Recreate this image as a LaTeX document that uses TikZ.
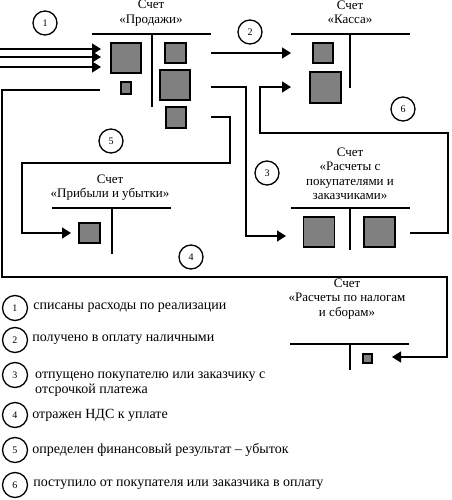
\documentclass[tikz,border=0pt]{standalone}
\usepackage{fontspec}
\setmainfont{Liberation Serif}
\usetikzlibrary{arrows.meta,positioning}

\tikzset{
  tline/.style={line width=1.3pt},
  sq/.style={draw, fill=gray, line width=1.1pt, inner sep=0pt},
  num/.style={draw, circle, line width=1.3pt, minimum size=24pt, inner sep=0pt, font=\fontsize{10}{12}\selectfont},
  conn/.style={line width=1.3pt, -{Triangle[length=9pt,width=11pt]}},
  title/.style={align=center, inner sep=0pt, font=\fontsize{13}{14.5}\selectfont},
  legend/.style={anchor=west, inner sep=0pt, align=left, font=\fontsize{14}{15}\selectfont},
}

\begin{document}
\begin{tikzpicture}[x=1pt,y=-1pt]
\useasboundingbox (0,0) rectangle (451,500);

% Account "Sales"
\node[title] (tSales) at (151,13) {Счет\\«Продажи»};
\draw[tline] (92,34) -- (211,34);
\draw[tline] (152,34) -- (152,107);
\node[sq, minimum width=30pt, minimum height=30pt] (sA) at (126,58) {};
\node[sq, minimum width=10pt, minimum height=12pt] (sB) at (126,88) {};
\node[sq, minimum width=21pt, minimum height=20pt] (sC) at (175.5,53) {};
\node[sq, minimum width=30pt, minimum height=30pt] (sD) at (175,85) {};
\node[sq, minimum width=20pt, minimum height=21pt] (sE) at (176,117.5) {};

% Account "Cash"
\node[title] (tCash) at (350,12.5) {Счет\\«Касса»};
\draw[tline] (291,34) -- (410,34);
\draw[tline] (350,34) -- (350,88);
\node[sq, minimum width=20pt, minimum height=20pt] (kA) at (323,53) {};
\node[sq, minimum width=31pt, minimum height=31pt] (kB) at (325.5,87.5) {};

% Account "Customers"
\node[title] (tCust) at (350,174) {Счет\\«Расчеты с\\покупателями и\\заказчиками»};
\draw[tline] (291,208) -- (410,208);
\draw[tline] (350,208) -- (350,250);
\node[sq, minimum width=31pt, minimum height=30pt] (cA) at (319,232) {};
\node[sq, minimum width=31pt, minimum height=30pt] (cB) at (379.5,232) {};

% Account "Profit and loss"
\node[title] (tProfit) at (110,187.5) {Счет\\«Прибыли и убытки»};
\draw[tline] (52,208) -- (171,208);
\draw[tline] (112,208) -- (112,254);
\node[sq, minimum width=21pt, minimum height=20pt] (pA) at (89.5,233) {};

% Account "Taxes"
\node[title] (tTax) at (347,299) {Счет\\«Расчеты по налогам\\и сборам»};
\draw[tline] (290,344) -- (409,344);
\draw[tline] (350,344) -- (350,370);
\node[sq, minimum width=9pt, minimum height=9pt] (tA) at (367.5,358.5) {};

% Entry 1
\foreach \y [count=\i] in {49,57,67} {
  \coordinate (in\i) at (0,\y);
  \coordinate (out\i) at (101,\y);
  \draw[conn] (in\i) -- (out\i);
}

% Entries 2 -- 6
\coordinate (a2s) at (211,53);  \coordinate (a2e) at (291,53);
\coordinate (a3s) at (211,87);  \coordinate (a3e) at (286,236);
\coordinate (a4s) at (100,90);  \coordinate (a4e) at (392,357);
\coordinate (a5s) at (211,117); \coordinate (a5e) at (71,233);
\coordinate (a6s) at (410,233); \coordinate (a6e) at (291,87);
\draw[conn] (a2s) -- (a2e);
\draw[conn] (a3s) -- ++(35,0) |- (a3e);
\draw[conn] (a4s) -| ++(-98,187) -| ++(445,80) -- (a4e);
\draw[conn] (a5s) -- ++(19,0) |- ++(-208,46) |- (a5e);
\draw[conn] (a6s) -- ++(38,0) |- ++(-188,-100) |- (a6e);

% Entry numbers
\node[num] (op1) at (45,23) {1};
\node[num] (op2) at (250,32) {2};
\node[num] (op3) at (267,173) {3};
\node[num] (op4) at (191,257) {4};
\node[num] (op5) at (111,141) {5};
\node[num] (op6) at (403,109) {6};

% Legend
\foreach \y [count=\i] in {308,340,375,415,450,485}
  \node[num, minimum size=25pt] (key\i) at (15,\y) {\i};
\node[legend, right=5pt of key1] (txt1) {списаны расходы по реализации};
\node[legend, right=4pt of key2] (txt2) {получено в оплату наличными};
\node[legend] (txt3) at (35,384.5) {отпущено покупателю или заказчику с\\отсрочкой платежа};
\node[legend, right=4pt of key4] (txt4) {отражен НДС к уплате};
\node[legend, right=4pt of key5] (txt5) {определен финансовый результат – убыток};
\node[legend, right=5pt of key6] (txt6) {поступило от покупателя или заказчика в оплату};
\end{tikzpicture}
\end{document}
